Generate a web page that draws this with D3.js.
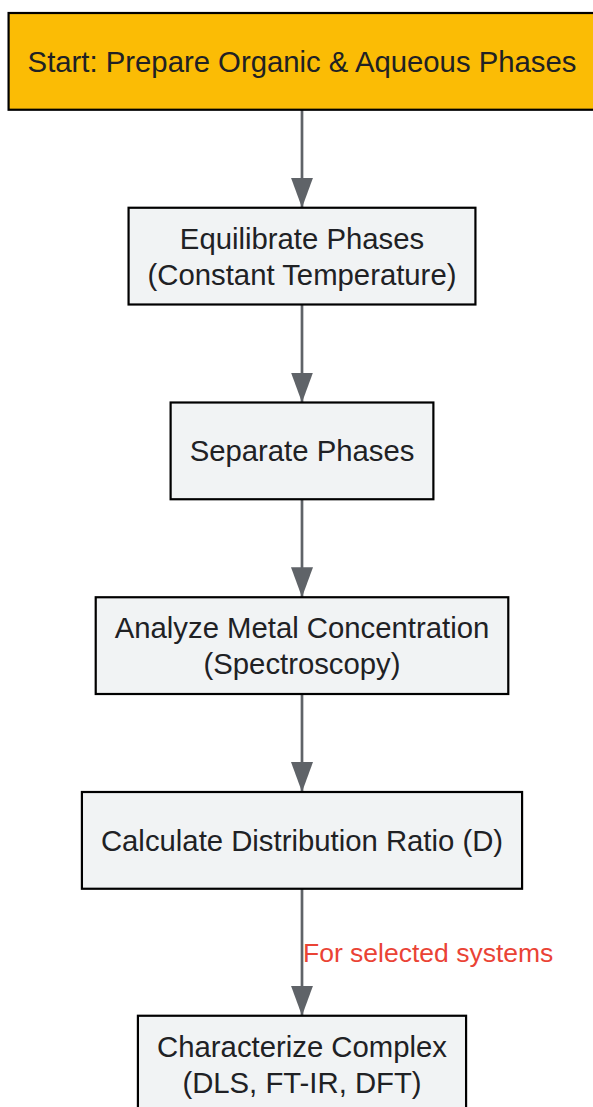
<!DOCTYPE html>
<html>
<head>
<meta charset="utf-8">
<script src="https://cdn.jsdelivr.net/npm/d3@7"></script>
<style>
  html, body { margin: 0; padding: 0; background: #fff; overflow: hidden; }
  svg { display: block; font-family: Arial, "Liberation Sans", sans-serif; }
</style>
</head>
<body>
<script>
// flow steps, top to bottom
var stepLabels = [
  ["Start: Prepare Organic & Aqueous Phases"],
  ["Equilibrate Phases", "(Constant Temperature)"],
  ["Separate Phases"],
  ["Analyze Metal Concentration", "(Spectroscopy)"],
  ["Calculate Distribution Ratio (D)"],
  ["Characterize Complex", "(DLS, FT-IR, DFT)"]
];
var stepKinds = ["start", "step", "step", "step", "step", "step"];
// edges: from index, to index, label
var edgeFrom = [0, 1, 2, 3, 4];
var edgeTo = [1, 2, 3, 4, 5];
var edgeLabels = ["", "", "", "", "For selected systems"];

var width = 593,
    height = 1107;

var cx = 302,
    top0 = 13,
    boxH = 96.75,
    padX = 19,
    gapPlain = 98,
    gapLabel = 127,
    fontSize = 29.3,
    lineH = 36;

var fills = { start: "#FBBC05", step: "#F1F3F4" };

var svg = d3.select("body").append("svg")
    .attr("width", width)
    .attr("height", height);

var defs = svg.append("defs");
defs.append("marker")
    .attr("id", "arrow")
    .attr("viewBox", "0 0 30 22")
    .attr("refX", 30)
    .attr("refY", 11)
    .attr("markerUnits", "userSpaceOnUse")
    .attr("markerWidth", 30)
    .attr("markerHeight", 22)
    .attr("orient", "auto")
  .append("path")
    .attr("d", "M0,0 L30,11 L0,22 Z")
    .attr("fill", "#5F6368");

// vertical positions: tops accumulate, labelled edges get a longer gap
var tops = [top0];
for (var i = 1; i < stepLabels.length; i++) {
  var e = edgeTo.indexOf(i);
  var g = (e >= 0 && edgeLabels[e]) ? gapLabel : gapPlain;
  tops.push(tops[i - 1] + boxH + g);
}
var y = d3.scaleOrdinal().domain(d3.range(stepLabels.length)).range(tops);

// edges first, under the boxes
var edges = svg.append("g").selectAll("g")
  .data(edgeFrom.map(function(f, k){ return { from: f, to: edgeTo[k], label: edgeLabels[k] }; }))
  .enter().append("g");

edges.append("line")
    .attr("x1", cx)
    .attr("x2", cx)
    .attr("y1", function(d){ return y(d.from) + boxH; })
    .attr("y2", function(d){ return y(d.to); })
    .attr("stroke", "#5F6368")
    .attr("stroke-width", 2.7)
    .attr("marker-end", "url(#arrow)");

edges.filter(function(d){ return d.label; })
  .append("text")
    .attr("x", cx + 1)
    .attr("y", function(d){ return y(d.to) - 54; })
    .attr("font-size", 26.5)
    .attr("fill", "#EA4335")
    .text(function(d){ return d.label; });

// nodes
var nodes = svg.append("g").selectAll("g")
  .data(stepLabels.map(function(l, k){ return { lines: l, kind: stepKinds[k], i: k }; }))
  .enter().append("g")
    .attr("transform", function(d){ return "translate(" + cx + "," + y(d.i) + ")"; });

var rects = nodes.append("rect")
    .attr("y", 0)
    .attr("height", boxH)
    .attr("fill", function(d){ return fills[d.kind]; })
    .attr("stroke", "#000")
    .attr("stroke-width", 2.2);

var texts = nodes.append("text")
    .attr("text-anchor", "middle")
    .attr("font-size", fontSize)
    .attr("fill", "#202124");

texts.selectAll("tspan")
  .data(function(d){ return d.lines; })
  .enter().append("tspan")
    .attr("x", 0)
    .attr("y", function(l, k, arr){
      var n = arr.length;
      return boxH / 2 + 10.5 + (k - (n - 1) / 2) * lineH;
    })
    .text(function(l){ return l; });

// size the boxes to their text
texts.each(function(d){
  d.w = this.getBBox().width + 2 * padX;
});
rects
    .attr("x", function(d){ return -d.w / 2; })
    .attr("width", function(d){ return d.w; });
</script>
</body>
</html>
